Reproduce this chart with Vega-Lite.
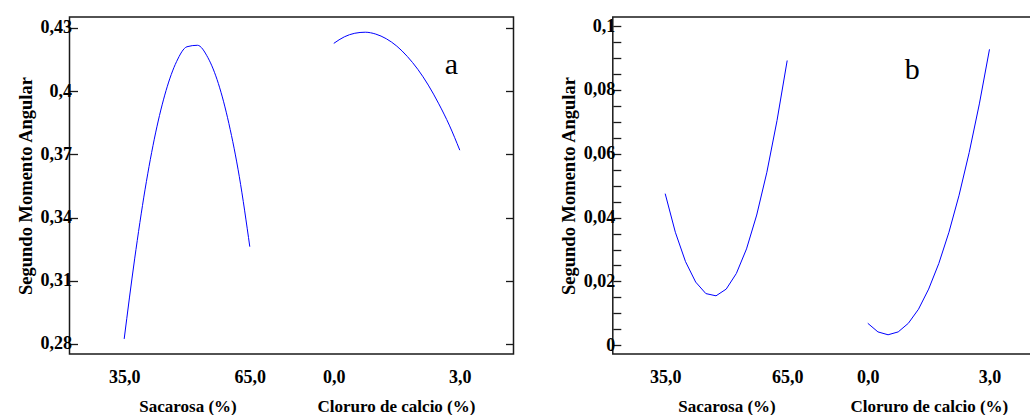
{
  "$schema": "https://vega.github.io/schema/vega-lite/v6.json",
  "padding": {"left": 14.5, "top": 16, "right": 0, "bottom": 0},
  "bounds": "flush",
  "spacing": 99.3,
  "config": {
    "view": {"stroke": "#1a1a1a", "strokeWidth": 1.5},
    "font": "Liberation Serif",
    "style": {
      "guide-label": {"font": "Liberation Serif", "fontWeight": "bold", "fontSize": 18, "fill": "#000"},
      "guide-title": {"font": "Liberation Serif", "fontWeight": "bold", "fontSize": 17, "fill": "#000"}
    },
    "axis": {
      "grid": false,
      "labelFont": "Liberation Serif",
      "titleFont": "Liberation Serif",
      "labelFontWeight": "bold",
      "titleFontWeight": "bold",
      "labelColor": "#000",
      "titleColor": "#000",
      "tickColor": "#1a1a1a",
      "labelFontSize": 18,
      "titleFontSize": 17
    },
    "axisX": {"ticks": false, "domain": false, "labelPadding": 14, "titlePadding": 12},
    "axisY": {"domain": false, "tickSize": -8, "tickWidth": 1.3, "labelPadding": 6, "titlePadding": 5, "titleFontSize": 18.5}
  },
  "hconcat": [
    {
      "width": 444,
      "height": 337,
      "layer": [
        {
          "data": {"values": [
            {"sacarosa": 35, "sma": 0.2824},
            {"sacarosa": 37.5, "sma": 0.3204},
            {"sacarosa": 40, "sma": 0.3535},
            {"sacarosa": 42.5, "sma": 0.3802},
            {"sacarosa": 45, "sma": 0.4003},
            {"sacarosa": 47.5, "sma": 0.414},
            {"sacarosa": 50, "sma": 0.4211},
            {"sacarosa": 52.5, "sma": 0.4218},
            {"sacarosa": 55, "sma": 0.4159},
            {"sacarosa": 57.5, "sma": 0.4036},
            {"sacarosa": 60, "sma": 0.3847},
            {"sacarosa": 62.5, "sma": 0.3594},
            {"sacarosa": 65, "sma": 0.3262}
          ]},
          "mark": {"type": "line", "color": "#0000ff", "strokeWidth": 1, "interpolate": "monotone"},
          "encoding": {
            "x": {"field": "sacarosa", "type": "quantitative",
              "scale": {"domain": [21.94, 127.98], "nice": false, "zero": false},
              "axis": {"orient": "bottom", "values": [35, 65], "labelExpr": "replace(format(datum.value,'.1f'),'.',',')", "title": "Sacarosa (%)", "titleX": 118, "titleAlign": "center", "titleAnchor": "start"}},
            "y": {"field": "sma", "type": "quantitative",
              "scale": {"domain": [0.27525, 0.43522], "nice": false, "zero": false},
              "axis": {"orient": "left", "values": [0.28, 0.31, 0.34, 0.37, 0.4, 0.43], "labelExpr": "replace(toString(datum.value),'.',',')", "title": "Segundo Momento Angular"}}
          }
        },
        {
          "data": {"values": [
            {"calcio": 0, "sma": 0.4227},
            {"calcio": 0.25, "sma": 0.4258},
            {"calcio": 0.5, "sma": 0.4275},
            {"calcio": 0.75, "sma": 0.428},
            {"calcio": 1.0, "sma": 0.4271},
            {"calcio": 1.25, "sma": 0.4249},
            {"calcio": 1.5, "sma": 0.4214},
            {"calcio": 1.75, "sma": 0.4165},
            {"calcio": 2.0, "sma": 0.4104},
            {"calcio": 2.25, "sma": 0.4029},
            {"calcio": 2.5, "sma": 0.394},
            {"calcio": 2.75, "sma": 0.3839},
            {"calcio": 3.0, "sma": 0.372}
          ]},
          "mark": {"type": "line", "color": "#0000ff", "strokeWidth": 1, "interpolate": "monotone"},
          "encoding": {
            "x": {"field": "calcio", "type": "quantitative",
              "scale": {"domain": [-6.293, 4.279], "nice": false, "zero": false},
              "axis": {"orient": "bottom", "values": [0, 3], "labelExpr": "replace(format(datum.value,'.1f'),'.',',')", "title": "Cloruro de calcio (%)", "titleX": 326.5, "titleAlign": "center", "titleAnchor": "start"}},
            "y": {"field": "sma", "type": "quantitative",
              "scale": {"domain": [0.27525, 0.43522], "nice": false, "zero": false},
              "axis": {"orient": "right", "values": [0.28, 0.31, 0.34, 0.37, 0.4, 0.43], "labels": false, "title": null}}
          }
        },
        {
          "data": {"values": [{"calcio": 2.8, "sma": 0.4083, "label": "a"}]},
          "mark": {"type": "text", "fontSize": 30, "font": "Liberation Serif", "align": "center", "baseline": "alphabetic", "color": "#000"},
          "encoding": {
            "x": {"field": "calcio", "type": "quantitative", "scale": {"domain": [-6.293, 4.279], "nice": false, "zero": false}, "axis": null},
            "y": {"field": "sma", "type": "quantitative", "scale": {"domain": [0.27525, 0.43522], "nice": false, "zero": false}, "axis": null},
            "text": {"field": "label"}
          }
        }
      ],
      "resolve": {"scale": {"x": "independent", "y": "independent"}, "axis": {"x": "independent", "y": "independent"}}
    },
    {
      "width": 444,
      "height": 337,
      "layer": [
        {
          "data": {"values": [
            {"sacarosa": 35, "sma": 0.0475},
            {"sacarosa": 37.5, "sma": 0.0354},
            {"sacarosa": 40, "sma": 0.0262},
            {"sacarosa": 42.5, "sma": 0.0198},
            {"sacarosa": 45, "sma": 0.0162},
            {"sacarosa": 47.5, "sma": 0.0155},
            {"sacarosa": 50, "sma": 0.0176},
            {"sacarosa": 52.5, "sma": 0.0225},
            {"sacarosa": 55, "sma": 0.0302},
            {"sacarosa": 57.5, "sma": 0.0408},
            {"sacarosa": 60, "sma": 0.0542},
            {"sacarosa": 62.5, "sma": 0.0704},
            {"sacarosa": 65, "sma": 0.0892}
          ]},
          "mark": {"type": "line", "color": "#0000ff", "strokeWidth": 1},
          "encoding": {
            "x": {"field": "sacarosa", "type": "quantitative",
              "scale": {"domain": [22.12, 131.29], "nice": false, "zero": false},
              "axis": {"orient": "bottom", "values": [35, 65], "labelExpr": "replace(format(datum.value,'.1f'),'.',',')", "title": "Sacarosa (%)", "titleX": 113.7, "titleAlign": "center", "titleAnchor": "start"}},
            "y": {"field": "sma", "type": "quantitative",
              "scale": {"domain": [-0.00272, 0.10282], "nice": false, "zero": false},
              "axis": {"orient": "left", "values": [0, 0.005, 0.01, 0.015, 0.02, 0.025, 0.03, 0.035, 0.04, 0.045, 0.05, 0.055, 0.06, 0.065, 0.07, 0.075, 0.08, 0.085, 0.09, 0.095, 0.1], "labelExpr": "(round(datum.value*1000) % 20 == 0) ? replace(toString(datum.value),'.',',') : ''", "title": "Segundo Momento Angular"}}
          }
        },
        {
          "data": {"values": [
            {"calcio": 0, "sma": 0.0069},
            {"calcio": 0.25, "sma": 0.0042},
            {"calcio": 0.5, "sma": 0.0033},
            {"calcio": 0.75, "sma": 0.0042},
            {"calcio": 1.0, "sma": 0.0069},
            {"calcio": 1.25, "sma": 0.0113},
            {"calcio": 1.5, "sma": 0.0176},
            {"calcio": 1.75, "sma": 0.0256},
            {"calcio": 2.0, "sma": 0.0354},
            {"calcio": 2.25, "sma": 0.047},
            {"calcio": 2.5, "sma": 0.0604},
            {"calcio": 2.75, "sma": 0.0756},
            {"calcio": 3.0, "sma": 0.0927}
          ]},
          "mark": {"type": "line", "color": "#0000ff", "strokeWidth": 1},
          "encoding": {
            "x": {"field": "calcio", "type": "quantitative",
              "scale": {"domain": [-6.285, 4.659], "nice": false, "zero": false},
              "axis": {"orient": "bottom", "values": [0, 3], "labelExpr": "replace(format(datum.value,'.1f'),'.',',')", "title": "Cloruro de calcio (%)", "titleX": 316, "titleAlign": "center", "titleAnchor": "start"}},
            "y": {"field": "sma", "type": "quantitative",
              "scale": {"domain": [-0.00272, 0.10282], "nice": false, "zero": false},
              "axis": null}
          }
        },
        {
          "data": {"values": [{"calcio": 1.094, "sma": 0.0833, "label": "b"}]},
          "mark": {"type": "text", "fontSize": 30, "font": "Liberation Serif", "align": "center", "baseline": "alphabetic", "color": "#000"},
          "encoding": {
            "x": {"field": "calcio", "type": "quantitative", "scale": {"domain": [-6.285, 4.659], "nice": false, "zero": false}, "axis": null},
            "y": {"field": "sma", "type": "quantitative", "scale": {"domain": [-0.00272, 0.10282], "nice": false, "zero": false}, "axis": null},
            "text": {"field": "label"}
          }
        }
      ],
      "resolve": {"scale": {"x": "independent", "y": "independent"}, "axis": {"x": "independent", "y": "independent"}}
    }
  ]
}
